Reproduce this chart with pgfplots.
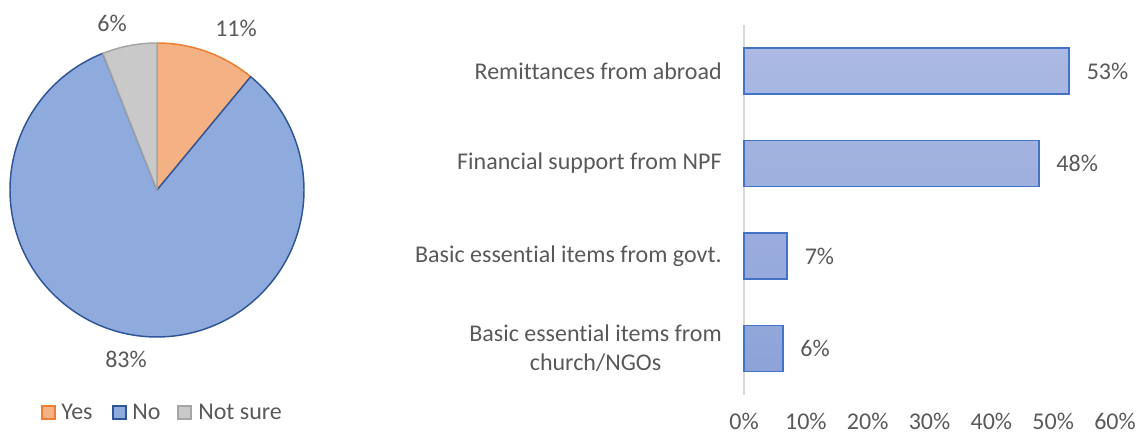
\documentclass[border=0pt]{standalone}
\usepackage{pgfplots}
\pgfplotsset{compat=1.18}
\usepackage{fontspec}
\setmainfont{Carlito}[Ligatures=NoCommon]
\definecolor{txt}{HTML}{595959}
\definecolor{yesF}{HTML}{F4B183}
\definecolor{yesL}{HTML}{ED7D31}
\definecolor{noF}{HTML}{8FAADC}
\definecolor{noL}{HTML}{2F5597}
\definecolor{nsF}{HTML}{C9C9C9}
\definecolor{nsL}{HTML}{A5A5A5}
\definecolor{barT}{HTML}{ABB9E3}
\definecolor{barB}{HTML}{8DA3D8}
\definecolor{barL}{HTML}{4472C4}
\definecolor{axl}{HTML}{D9D9D9}
\begin{document}
\begin{tikzpicture}[x=0.75pt,y=0.75pt,font=\fontsize{18}{22}\selectfont]
\useasboundingbox (0,0) rectangle (1140,434);
% pie shares (percent)
\def\pYes{11}\def\pNo{83}\def\pNS{6}
\pgfmathsetmacro\aA{90}
\pgfmathsetmacro\aB{\aA-3.6*\pYes}
\pgfmathsetmacro\aC{\aB-3.6*\pNo}
\pgfmathsetmacro\aD{\aC-3.6*\pNS}
\begin{axis}[at={(117.75pt,183pt)},anchor=center,hide axis,x=110.25pt,y=110.25pt,
  xmin=-1,xmax=1,ymin=-1,ymax=1,clip=false]
\filldraw[fill=yesF,draw=yesL,line width=1.1pt,line join=round]
  (axis cs:0,0) -- (axis cs:{cos(\aA)},{sin(\aA)}) arc[start angle=\aA,end angle=\aB,radius=110.25pt] -- cycle;
\filldraw[fill=noF,draw=noL,line width=1.1pt,line join=round]
  (axis cs:0,0) -- (axis cs:{cos(\aB)},{sin(\aB)}) arc[start angle=\aB,end angle=\aC,radius=110.25pt] -- cycle;
\filldraw[fill=nsF,draw=nsL,line width=1.1pt,line join=round]
  (axis cs:0,0) -- (axis cs:{cos(\aC)},{sin(\aC)}) arc[start angle=\aC,end angle=\aD,radius=110.25pt] -- cycle;
\end{axis}
\node[anchor=base,inner sep=0pt,text=txt] at (236,397) {\pYes\%};
\node[anchor=base,inner sep=0pt,text=txt] at (112,402) {\pNS\%};
\node[anchor=base,inner sep=0pt,text=txt] at (126,66) {\pNo\%};
% legend
\filldraw[fill=yesF,draw=yesL,line width=1pt] (42,15) rectangle (55,28);
\node[anchor=base west,inner sep=0pt,text=txt] at (61,14) {Yes};
\filldraw[fill=noF,draw=noL,line width=1pt] (113,15) rectangle (126,28);
\node[anchor=base west,inner sep=0pt,text=txt] at (132,14) {No};
\filldraw[fill=nsF,draw=nsL,line width=1pt] (178,15) rectangle (191,28);
\node[anchor=base west,inner sep=0pt,text=txt] at (198,14) {Not sure};
% bar chart
\begin{axis}[at={(558pt,29.44pt)},anchor=south west,scale only axis,
  width=278.25pt,height=277.5pt,
  xmin=0,xmax=60,ymin=-0.5,ymax=3.5,
  /pgf/number format/assume math mode=true,
  xtick={0,10,20,30,40,50,60},
  xticklabel={\pgfmathprintnumber{\tick}\%},
  ytick={0,1,2,3},
  yticklabels={{Basic essential items from\\church/NGOs},{Basic essential items from govt.},{Financial support from NPF},{Remittances from abroad}},
  major tick length=0pt,
  axis line style={draw=none},
  xticklabel style={anchor=base,inner sep=0pt,yshift=-25.8pt,text=txt},
  yticklabel style={anchor=east,align=center,inner sep=0pt,xshift=-16.5pt,text=txt},
  xbar,bar width=34.5pt,clip=false,
  point meta=x,
  nodes near coords={\pgfmathprintnumber[fixed,precision=0]{\pgfplotspointmeta}\%},
  nodes near coords style={anchor=west,inner sep=0pt,xshift=12.5pt,text=txt},
]
\draw[axl,line width=1.5pt] (axis cs:0,-0.5) -- (axis cs:0,3.5);
\addplot+[draw=barL,line width=1.3pt,top color=barT,bottom color=barB]
  coordinates {(6.3,0) (7.0,1) (47.7,2) (52.6,3)};
\end{axis}
\end{tikzpicture}
\end{document}
